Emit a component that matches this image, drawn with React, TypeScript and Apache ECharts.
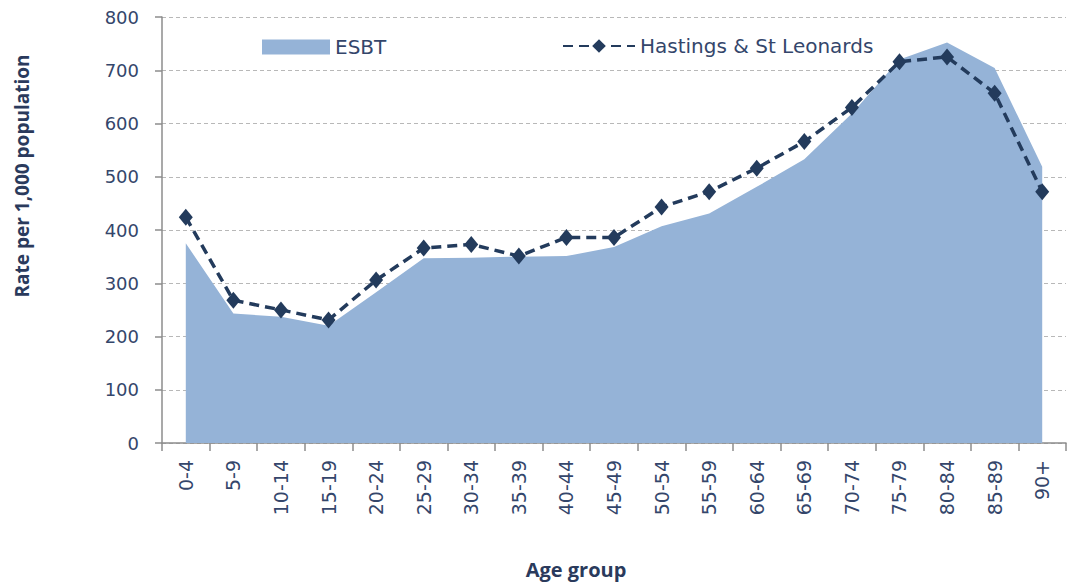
import React, { useEffect, useRef } from "react";
import * as echarts from "echarts";

const categories = ["0-4","5-9","10-14","15-19","20-24","25-29","30-34","35-39","40-44","45-49","50-54","55-59","60-64","65-69","70-74","75-79","80-84","85-89","90+"];
const esbt = [375, 243, 237, 220, 283, 347, 348, 350, 351, 368, 407, 431, 481, 533, 619, 720, 752, 704, 519];
const hastings = [424, 268, 250, 231, 306, 366, 373, 351, 386, 386, 443, 472, 516, 566, 630, 716, 725, 657, 472];
const yTicks = { min: 0, max: 800, interval: 100 };

const textColor = "#34466b";
const titleColor = "#2a3a5c";
const font = "'DejaVu Sans', Verdana, sans-serif";

export default function App() {
  const ref = useRef<HTMLDivElement>(null);
  useEffect(() => {
    if (!ref.current) return;
    const chart = echarts.init(ref.current, undefined, { renderer: "svg" });
    chart.setOption({
      animation: false,
      backgroundColor: "#ffffff",
      grid: { left: 162, right: 1, top: 17, bottom: 144 },
      legend: [
        {
          data: ["ESBT"],
          left: 257,
          top: 32,
          icon: "rect",
          itemWidth: 68,
          itemHeight: 15,
          itemGap: 7,
          textStyle: { color: textColor, fontSize: 20, fontFamily: font },
        },
        {
          data: ["Hastings & St Leonards"],
          left: 557,
          top: 31,
          itemWidth: 72,
          itemHeight: 17,
          textStyle: { color: textColor, fontSize: 20, fontFamily: font },
        },
      ],
      graphic: [
        {
          type: "text",
          x: 22,
          y: 176,
          rotation: Math.PI / 2,
          style: {
            text: "Rate per 1,000 population",
            fill: titleColor,
            font: "bold 19px 'Open Sans', sans-serif",
            textAlign: "center",
            textVerticalAlign: "middle",
          },
        },
        {
          type: "text",
          x: 576,
          y: 569,
          style: {
            text: "Age group",
            fill: titleColor,
            font: "bold 20px 'Open Sans', sans-serif",
            textAlign: "center",
            textVerticalAlign: "middle",
          },
        },
      ],
      xAxis: {
        type: "category",
        data: categories,
        boundaryGap: true,
        axisLine: { lineStyle: { color: "#8c8c8c", width: 1.5 } },
        axisTick: { show: true, length: 8, alignWithLabel: false, lineStyle: { color: "#8c8c8c", width: 1.5 } },
        axisLabel: { rotate: 90, margin: 17, color: textColor, fontSize: 19, fontFamily: font, interval: 0 },
      },
      yAxis: {
        type: "value",
        min: yTicks.min,
        max: yTicks.max,
        interval: yTicks.interval,
        axisLine: { show: true, lineStyle: { color: "#8c8c8c", width: 1.5 } },
        axisTick: { show: true, length: 7, lineStyle: { color: "#8c8c8c", width: 1.5 } },
        axisLabel: { margin: 23, color: textColor, fontSize: 18, fontFamily: font },
        splitLine: { show: true, lineStyle: { color: "#b8b8b8", type: [4, 3], width: 1 } },
      },
      series: [
        {
          name: "ESBT",
          type: "line",
          data: esbt,
          symbol: "none",
          lineStyle: { width: 0, color: "#95B3D7" },
          itemStyle: { color: "#95B3D7" },
          areaStyle: { color: "#95B3D7", opacity: 1 },
          z: 1,
        },
        {
          name: "Hastings & St Leonards",
          type: "line",
          data: hastings,
          symbol: "diamond",
          symbolSize: [14, 17],
          lineStyle: { width: 3.5, color: "#233b5c", type: [10, 6] },
          itemStyle: { color: "#233b5c" },
          z: 3,
        },
      ],
    });
    return () => chart.dispose();
  }, []);
  return <div ref={ref} style={{ width: 1067, height: 587, position: "absolute", left: 0, top: 0 }} />;
}
